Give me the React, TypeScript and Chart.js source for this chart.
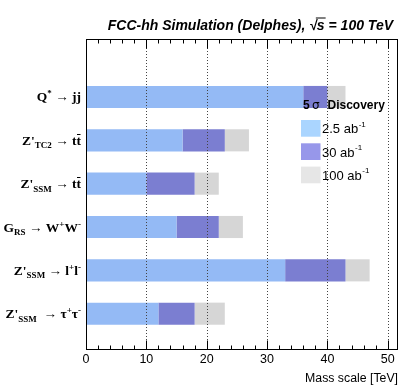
import React, { useEffect, useRef } from "react";
import { Chart, registerables } from "chart.js";

Chart.register(...registerables);

// ---------- data ----------
const categories = ["Q* → jj", "Z'TC2 → tt̄", "Z'SSM → tt̄", "GRS → W+W-", "Z'SSM → l+l-", "Z'SSM → τ+τ-"];
const reach2p5 = [36, 16, 10, 15, 33, 12];
const reach30 = [40, 23, 18, 22, 43, 18];
const reach100 = [43, 27, 22, 26, 47, 23];
const seriesNames = ["2.5 ab", "30 ab", "100 ab"];
const seriesSup = ["-1", "-1", "-1"];
const xTicks = [0, 10, 20, 30, 40, 50];
const xMax = 51.7;
const title = ["FCC-hh Simulation (Delphes), ", "√", "s", " = 100 TeV"];
const xTitle = "Mass scale [TeV]";
const legendTitle = ["5", "σ", "Discovery"];

type Seg = { t: string; k?: "sub" | "sup" | "arrow" | "bar" };
const richLabels: Seg[][] = [
  [{ t: "Q" }, { t: "*", k: "sup" }, { t: " → ", k: "arrow" }, { t: "jj" }],
  [{ t: "Z'" }, { t: "TC2", k: "sub" }, { t: " → ", k: "arrow" }, { t: "t" }, { t: "t", k: "bar" }],
  [{ t: "Z'" }, { t: "SSM", k: "sub" }, { t: " → ", k: "arrow" }, { t: "t" }, { t: "t", k: "bar" }],
  [{ t: "G" }, { t: "RS", k: "sub" }, { t: " → ", k: "arrow" }, { t: "W" }, { t: "+", k: "sup" }, { t: "W" }, { t: "-", k: "sup" }],
  [{ t: "Z'" }, { t: "SSM", k: "sub" }, { t: " → ", k: "arrow" }, { t: "l" }, { t: "+", k: "sup" }, { t: "l" }, { t: "-", k: "sup" }],
  [{ t: "Z'" }, { t: "SSM", k: "sub" }, { t: "  → ", k: "arrow" }, { t: "τ" }, { t: "+", k: "sup" }, { t: "τ" }, { t: "-", k: "sup" }],
];

const barColors = ["#94baf5", "#7b7ed1", "#d6d6d6"];
const legendColors = ["#aad5ff", "#9797ea", "#e6e6e6"];

const N = categories.length;
const yOf = (i: number) => N - 1 - i;

const overlay = {
  id: "overlay",
  afterDatasetsDraw(chart: any) {
    const { ctx, chartArea: a } = chart;
    const x = chart.scales.x;
    const y = chart.scales.y;
    ctx.save();
    // dotted grid lines over bars
    ctx.strokeStyle = "#444";
    ctx.lineWidth = 1;
    ctx.setLineDash([1, 2]);
    for (const v of xTicks) {
      if (v === 0) continue;
      const px = Math.round(x.getPixelForValue(v)) + 0.5;
      ctx.beginPath();
      ctx.moveTo(px, a.top);
      ctx.lineTo(px, a.bottom);
      ctx.stroke();
    }
    ctx.setLineDash([]);
    // frame
    ctx.strokeStyle = "#000";
    const L = Math.round(a.left) + 0.5, R = Math.round(a.right) - 0.5, T = Math.round(a.top) + 0.5, B = Math.round(a.bottom) - 0.5;
    ctx.strokeRect(L, T, R - L, B - T);
    // inward ticks
    for (let v = 2; v < xMax; v += 2) {
      const len = v % 10 === 0 ? 9 : 4;
      const px = Math.round(x.getPixelForValue(v)) + 0.5;
      ctx.beginPath();
      ctx.moveTo(px, B);
      ctx.lineTo(px, B - len);
      ctx.moveTo(px, T);
      ctx.lineTo(px, T + len);
      ctx.stroke();
    }

    // category labels
    const main = 'bold 13.5px "Liberation Serif"';
    const small = 'bold 9px "Liberation Serif"';
    const arrowF = '13.5px "Liberation Serif"';
    const fontOf = (s: Seg) => (s.k === "sub" || s.k === "sup" ? small : s.k === "arrow" ? arrowF : main);
    ctx.fillStyle = "#000";
    ctx.textBaseline = "alphabetic";
    ctx.textAlign = "left";
    richLabels.forEach((segs, i) => {
      const cy = y.getPixelForValue(yOf(i));
      const base = cy + 4.5;
      let w = 0;
      for (const s of segs) {
        ctx.font = fontOf(s);
        w += ctx.measureText(s.t).width;
      }
      let xx = a.left - 5 - w;
      for (const s of segs) {
        ctx.font = fontOf(s);
        const sw = ctx.measureText(s.t).width;
        const dy = s.k === "sub" ? 3.5 : s.k === "sup" ? -5 : 0;
        ctx.fillText(s.t, xx, base + dy);
        if (s.k === "bar") {
          ctx.lineWidth = 1;
          ctx.beginPath();
          ctx.moveTo(xx + 0.5, Math.round(base - 11) + 0.5);
          ctx.lineTo(xx + sw - 0.5, Math.round(base - 11) + 0.5);
          ctx.stroke();
        }
        xx += sw;
      }
    });

    // legend
    ctx.font = 'bold 12px "Liberation Sans"';
    ctx.fillText(legendTitle[0], 303, 108.5);
    ctx.font = '12px "DejaVu Sans"';
    ctx.fillText(legendTitle[1], 312, 108.5);
    ctx.font = 'bold 12px "Liberation Sans"';
    ctx.fillText(legendTitle[2], 327.5, 108.5);
    seriesNames.forEach((nm, k) => {
      const top = 120 + k * 23.3;
      ctx.fillStyle = legendColors[k];
      ctx.fillRect(301, top, 19.5, 16.7);
      ctx.fillStyle = "#000";
      ctx.font = '13px "Liberation Sans"';
      ctx.fillText(nm, 322, top + 13.2);
      const nw = ctx.measureText(nm).width;
      ctx.font = '8px "Liberation Sans"';
      ctx.fillText(seriesSup[k], 322 + nw + 0.5, top + 6.5);
    });

    // title
    ctx.font = 'italic bold 14px "Liberation Sans"';
    const full = title.join("");
    let tx = 393 - ctx.measureText(full).width;
    const tb = 29.5;
    title.forEach((p, j) => {
      ctx.fillText(p, tx, tb);
      const pw = ctx.measureText(p).width;
      if (j === 2) {
        ctx.lineWidth = 1;
        ctx.beginPath();
        ctx.moveTo(tx - 1, tb - 11.5);
        ctx.lineTo(tx + pw + 1, tb - 11.5);
        ctx.stroke();
      }
      tx += pw;
    });
    ctx.restore();
  },
};

export default function App() {
  const ref = useRef<HTMLCanvasElement | null>(null);
  useEffect(() => {
    if (!ref.current) return;
    const mk = (lo: number[] | null, hi: number[]) =>
      categories.map((_, i) => ({ x: [lo ? lo[i] : 0, hi[i]], y: yOf(i) }));
    const chart = new Chart(ref.current, {
      type: "bar",
      data: {
        datasets: [
          { label: seriesNames[0], data: mk(null, reach2p5) as any, backgroundColor: barColors[0] },
          { label: seriesNames[1], data: mk(reach2p5, reach30) as any, backgroundColor: barColors[1] },
          { label: seriesNames[2], data: mk(reach30, reach100) as any, backgroundColor: barColors[2] },
        ],
      },
      options: {
        indexAxis: "y",
        animation: false,
        responsive: false,
        layout: { padding: { left: 86, right: 9, top: 39, bottom: 0 } },
        datasets: { bar: { grouped: false, barPercentage: 0.51, categoryPercentage: 1, borderWidth: 0 } } as any,
        plugins: { legend: { display: false }, tooltip: { enabled: false }, title: { display: false } },
        scales: {
          y: {
            type: "linear",
            display: false,
            min: -0.24,
            max: 5.74,
            ticks: { stepSize: 1, includeBounds: false },
          },
          x: {
            type: "linear",
            position: "bottom",
            min: 0,
            max: xMax,
            afterFit: (s: any) => {
              s.height = 40;
            },
            grid: { display: false, drawTicks: false },
            border: { display: false },
            ticks: {
              stepSize: 10,
              includeBounds: false,
              padding: 2.5,
              color: "#000",
              font: { family: "Liberation Sans", size: 12.5 },
              maxRotation: 0,
            },
            title: {
              display: true,
              text: xTitle,
              align: "end",
              color: "#000",
              font: { family: "Liberation Sans", size: 12.3 },
              padding: { top: 0, bottom: 4.5 },
            },
          },
        },
      } as any,
      plugins: [overlay],
    });
    return () => chart.destroy();
  }, []);
  return (
    <div style={{ position: "absolute", left: 0, top: 0, width: 407, height: 390, background: "#fff" }}>
      <canvas ref={ref} width={407} height={390} style={{ display: "block", width: 407, height: 390 }} />
    </div>
  );
}
